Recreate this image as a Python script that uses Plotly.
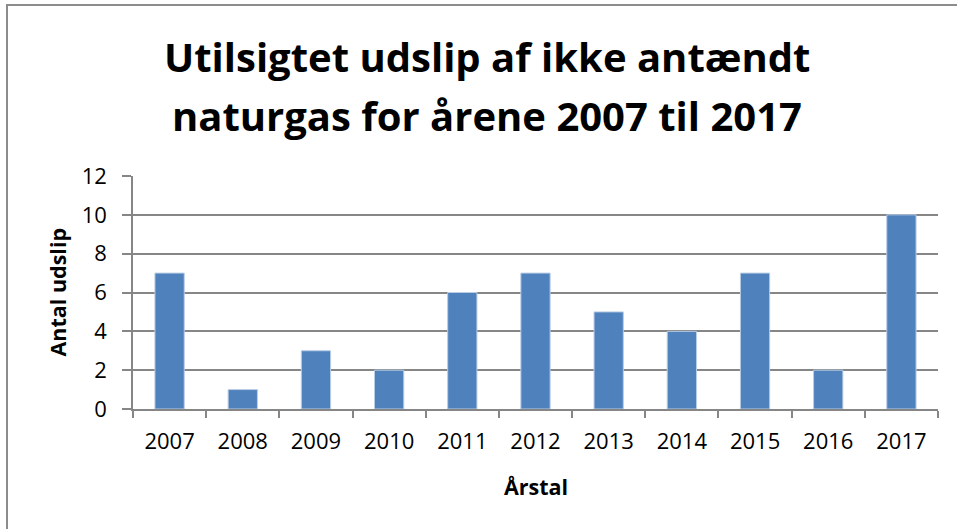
import plotly.graph_objects as go

years = ["2007", "2008", "2009", "2010", "2011", "2012", "2013", "2014", "2015", "2016", "2017"]
counts = [7, 1, 3, 2, 6, 7, 5, 4, 7, 2, 10]
title_lines = ["Utilsigtet udslip af ikke antændt", "naturgas for årene 2007 til 2017"]
x_title = "Årstal"
y_title = "Antal udslip"

W, H = 957, 529
L, R, T, B = 133, 19, 176, 120
pw, ph = W - L - R, H - T - B

def px_x(x):
    return (x - L) / pw

def px_y(y):
    return (H - B - y) / ph

FONT = "Open Sans, Carlito, Calibri, sans-serif"

fig = go.Figure(go.Bar(
    x=years, y=counts,
    marker=dict(color="#4F81BD", line=dict(color="#B9CDE5", width=1)),
    width=0.4,
))

fig.update_layout(
    width=W, height=H,
    margin=dict(l=L, r=R, t=T, b=B),
    paper_bgcolor="white", plot_bgcolor="white",
    showlegend=False,
    font=dict(family=FONT, color="black", size=22),
    xaxis=dict(
        type="category", tickson="boundaries", ticks="outside", ticklen=7,
        tickcolor="#868686", tickwidth=1.5, showline=True, linecolor="#868686", linewidth=1.5,
        tickfont=dict(size=22, family=FONT), showgrid=False, ticklabelstandoff=12,
    ),
    yaxis=dict(
        range=[0, 12], dtick=2, ticks="outside", ticklen=9, tickcolor="#868686", tickwidth=1.5,
        showline=True, linecolor="#868686", linewidth=1.5, showgrid=True, gridcolor="#868686",
        gridwidth=1.5, zeroline=False, tickfont=dict(size=22, family=FONT), ticklabelstandoff=11,
    ),
    annotations=[
        dict(text="<b>%s</b>" % title_lines[0], x=px_x(487), y=px_y(57), xref="paper", yref="paper",
             xanchor="center", yanchor="middle", showarrow=False, font=dict(size=40, family=FONT)),
        dict(text="<b>%s</b>" % title_lines[1], x=px_x(487), y=px_y(116), xref="paper", yref="paper",
             xanchor="center", yanchor="middle", showarrow=False, font=dict(size=40, family=FONT)),
        dict(text="<b>%s</b>" % x_title, x=0.5, y=px_y(486), xref="paper", yref="paper",
             xanchor="center", yanchor="middle", showarrow=False, font=dict(size=21.5, family=FONT)),
        dict(text="<b>%s</b>" % y_title, x=px_x(57), y=0.5, xref="paper", yref="paper",
             xanchor="center", yanchor="middle", textangle=-90, showarrow=False,
             font=dict(size=21.5, family=FONT)),
    ],
    shapes=[
        dict(type="rect", xref="paper", yref="paper",
             x0=px_x(7), x1=px_x(W + 20), y0=px_y(H + 20), y1=px_y(5),
             line=dict(color="#8C8C8C", width=2), fillcolor="rgba(0,0,0,0)", layer="below"),
    ],
)

fig.write_html("out.html", config={"displayModeBar": False},
               post_script="document.body.style.margin='0';document.body.style.overflow='hidden';")
